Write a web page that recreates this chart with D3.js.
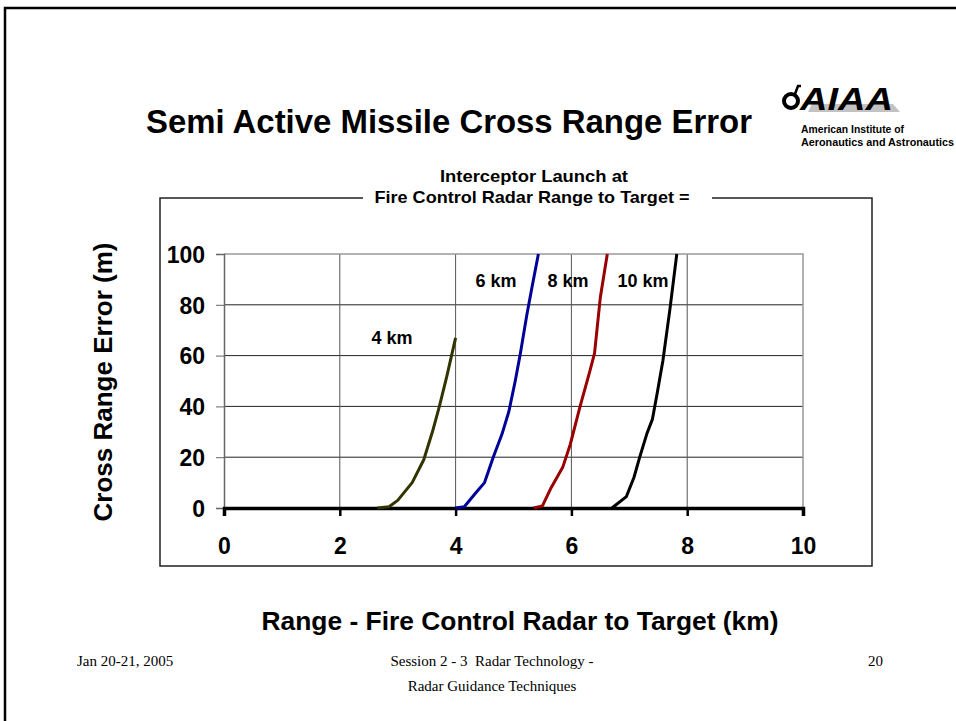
<!DOCTYPE html>
<html><head><meta charset="utf-8">
<script src="https://cdn.jsdelivr.net/npm/d3@7/dist/d3.min.js"></script>
<style>body{margin:0;background:#fff}svg{display:block}text{white-space:pre}</style>
</head><body>
<script>
const xTicks = [0, 2, 4, 6, 8, 10];
const yTicks = [0, 20, 40, 60, 80, 100];
const series4  = [[2.65,0],[2.85,0.5],[3.0,3],[3.25,10],[3.45,19],[3.6,30],[3.72,40],[3.85,52],[4.0,67]];
const series6  = [[4.0,0],[4.15,0.5],[4.35,6],[4.5,10],[4.65,20],[4.8,29],[4.92,38],[5.03,50],[5.12,61],[5.23,76],[5.32,87],[5.43,100]];
const series8  = [[5.35,0],[5.5,0.8],[5.65,8],[5.85,16],[5.98,25],[6.15,40],[6.32,54],[6.4,61],[6.5,83],[6.62,100]];
const series10 = [[6.7,0],[6.95,4.5],[7.08,12],[7.18,20],[7.3,29],[7.4,35],[7.48,45],[7.58,58],[7.7,78],[7.82,100]];
const seriesNames = ["4 km", "6 km", "8 km", "10 km"];
const seriesColors = ["#333300", "#000099", "#990000", "#000000"];
const seriesData = [series4, series6, series8, series10];

const W = 956, H = 721;
const svg = d3.select("body").append("svg").attr("width", W).attr("height", H);
const sans = "'Liberation Sans', Arial, sans-serif";
const serif = "'Liberation Serif', 'Times New Roman', serif";

// slide border
svg.append("rect").attr("x", 5).attr("y", 8).attr("width", 960).attr("height", 730)
  .attr("fill", "none").attr("stroke", "#000").attr("stroke-width", 2.5);

// title
svg.append("text").attr("x", 449).attr("y", 133).attr("text-anchor", "middle")
  .attr("font-family", sans).attr("font-weight", "bold").attr("font-size", 33)
  .attr("textLength", 606).attr("lengthAdjust", "spacingAndGlyphs").text("Semi Active Missile Cross Range Error");

// logo
const logo = svg.append("g");
logo.append("circle").attr("cx", 791).attr("cy", 101).attr("r", 7).attr("fill", "none").attr("stroke", "#000").attr("stroke-width", 4);
logo.append("path").attr("d", "M795 94 L798 86 L801 86").attr("fill", "none").attr("stroke", "#000").attr("stroke-width", 2.5);
logo.append("path").attr("d", "M812 104 L893 104 L900 112 L808 112 Z").attr("fill", "#999").attr("opacity", 0.6);
logo.append("text").attr("x", 800).attr("y", 110).attr("font-family", sans).attr("font-weight", "900")
  .attr("font-style", "italic").attr("font-size", 32).attr("textLength", 93).attr("lengthAdjust", "spacingAndGlyphs").text("AIAA");
logo.append("text").attr("x", 801).attr("y", 133).attr("font-family", sans).attr("font-weight", "bold")
  .attr("font-size", 10.5).attr("textLength", 103).attr("lengthAdjust", "spacingAndGlyphs").text("American Institute of");
logo.append("text").attr("x", 801).attr("y", 146).attr("font-family", sans).attr("font-weight", "bold")
  .attr("font-size", 10.5).attr("textLength", 153).attr("lengthAdjust", "spacingAndGlyphs").text("Aeronautics and Astronautics");

// legend frame
const frame = svg.append("g");
frame.append("path").attr("d", "M363 198 L160 198 L160 566 L872 566 L872 198 L712 198")
  .attr("fill", "none").attr("stroke", "#222").attr("stroke-width", 1.5);
frame.append("text").attr("x", 534).attr("y", 182).attr("text-anchor", "middle")
  .attr("font-family", sans).attr("font-weight", "bold").attr("font-size", 17)
  .attr("textLength", 188).attr("lengthAdjust", "spacingAndGlyphs").text("Interceptor Launch at");
frame.append("text").attr("x", 532).attr("y", 203).attr("text-anchor", "middle")
  .attr("font-family", sans).attr("font-weight", "bold").attr("font-size", 17)
  .attr("textLength", 315).attr("lengthAdjust", "spacingAndGlyphs").text("Fire Control Radar Range to Target =");

// scales
const x = d3.scaleLinear().domain([0, 10]).range([224, 803]);
const y = d3.scaleLinear().domain([0, 100]).range([508, 254]);

// gridlines
svg.append("g").selectAll("line").data(yTicks.filter(d => d > 0 && d < 100)).join("line")
  .attr("x1", x(0)).attr("x2", x(10)).attr("y1", d => y(d)).attr("y2", d => y(d))
  .attr("stroke", "#222").attr("stroke-width", 1);
svg.append("g").selectAll("line").data(xTicks.filter(d => d > 0 && d < 10)).join("line")
  .attr("y1", y(0)).attr("y2", y(100)).attr("x1", d => x(d)).attr("x2", d => x(d))
  .attr("stroke", "#555").attr("stroke-width", 1);
// plot border top/right
svg.append("path").attr("d", `M${x(0)} ${y(100)} L${x(10)} ${y(100)} L${x(10)} ${y(0)}`)
  .attr("fill", "none").attr("stroke", "#999").attr("stroke-width", 1.5);

// y axis
const yAxis = svg.append("g").attr("transform", `translate(${x(0)},0)`)
  .call(d3.axisLeft(y).tickValues(yTicks).tickSize(8).tickPadding(11));
yAxis.select(".domain").attr("stroke", "#666").attr("stroke-width", 1.5);
yAxis.selectAll(".tick line").attr("stroke", "#666");
yAxis.selectAll(".tick text").attr("font-family", sans).attr("font-weight", "bold").attr("font-size", 23).attr("fill", "#000").attr("dy", "0.36em");

// x axis
const xAxis = svg.append("g").attr("transform", `translate(0,${y(0)})`)
  .call(d3.axisBottom(x).tickValues(xTicks).tickSize(8).tickPadding(22));
xAxis.select(".domain").attr("stroke", "#000").attr("stroke-width", 3.5);
xAxis.selectAll(".tick line").attr("stroke", "#000").attr("stroke-width", 2.5);
xAxis.selectAll(".tick text").attr("font-family", sans).attr("font-weight", "bold").attr("font-size", 23).attr("fill", "#000");

// series
const line = d3.line().x(d => x(d[0])).y(d => y(d[1]));
svg.append("g").selectAll("path").data(seriesData).join("path")
  .attr("d", line).attr("fill", "none").attr("stroke", (d, i) => seriesColors[i])
  .attr("stroke-width", 3).attr("stroke-linejoin", "round");

// series labels
const labelPos = [[392, 344], [496, 287], [568, 287], [643, 287]];
svg.append("g").selectAll("text").data(seriesNames).join("text")
  .attr("x", (d, i) => labelPos[i][0]).attr("y", (d, i) => labelPos[i][1]).attr("text-anchor", "middle")
  .attr("font-family", sans).attr("font-weight", "bold").attr("font-size", 18).text(d => d);

// axis titles
svg.append("text").attr("transform", "translate(112,382) rotate(-90)").attr("text-anchor", "middle")
  .attr("font-family", sans).attr("font-weight", "bold").attr("font-size", 26).text("Cross Range Error (m)");
svg.append("text").attr("x", 520).attr("y", 630).attr("text-anchor", "middle")
  .attr("font-family", sans).attr("font-weight", "bold").attr("font-size", 26)
  .attr("textLength", 517).attr("lengthAdjust", "spacingAndGlyphs").text("Range - Fire Control Radar to Target (km)");

// footer
svg.append("text").attr("x", 77).attr("y", 666).attr("font-family", serif).attr("font-size", 15).text("Jan 20-21, 2005");
svg.append("text").attr("x", 492).attr("y", 666).attr("text-anchor", "middle").attr("font-family", serif).attr("font-size", 15).text("Session 2 - 3  Radar Technology -");
svg.append("text").attr("x", 492).attr("y", 691).attr("text-anchor", "middle").attr("font-family", serif).attr("font-size", 15).text("Radar Guidance Techniques");
svg.append("text").attr("x", 868).attr("y", 666).attr("font-family", serif).attr("font-size", 15).text("20");
</script>
</body></html>
